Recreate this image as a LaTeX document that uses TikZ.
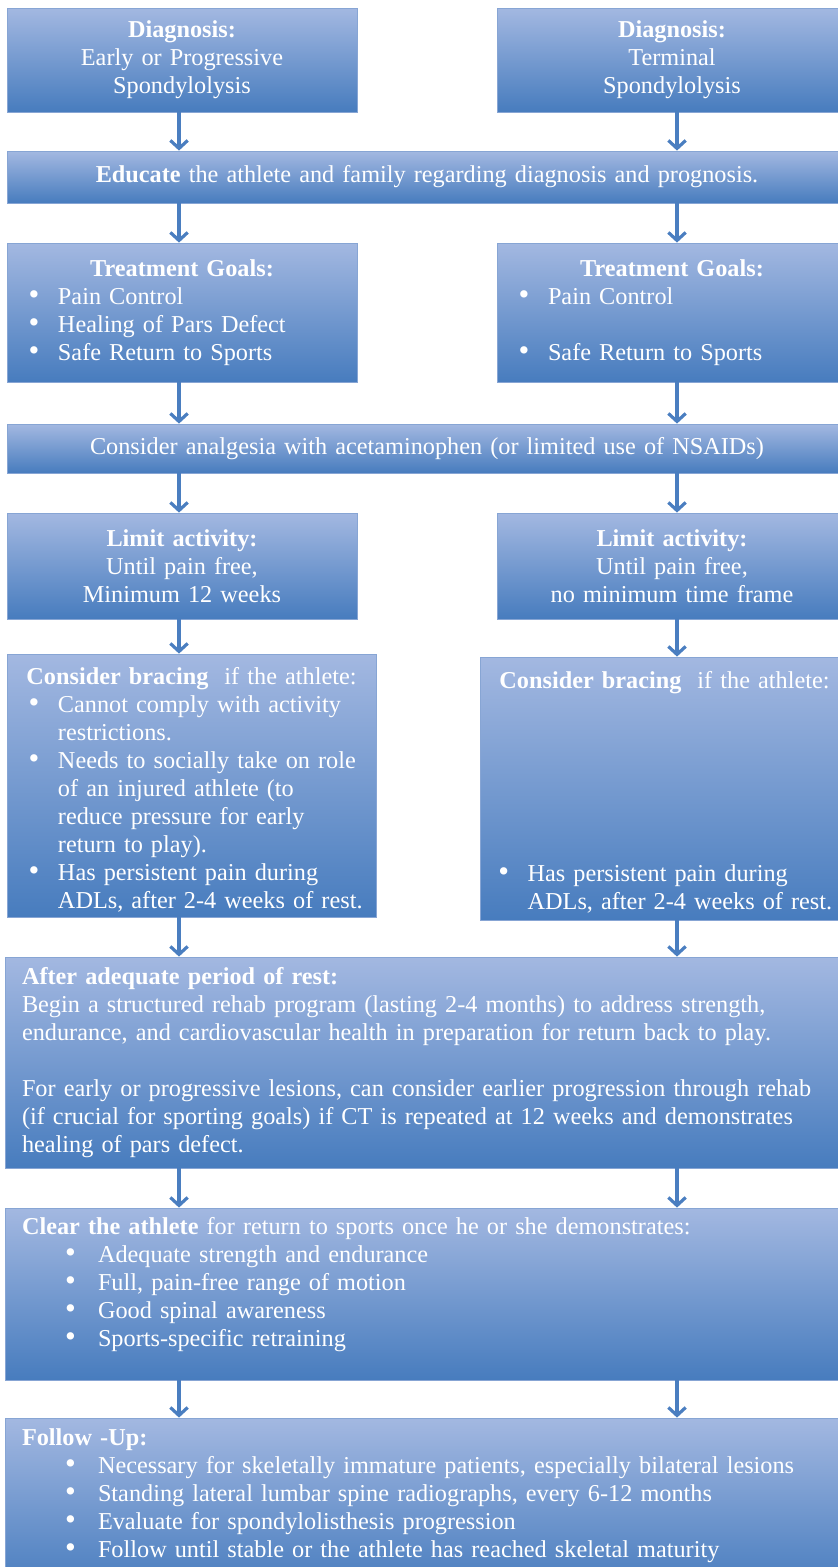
\documentclass[tikz,border=0pt]{standalone}
\usepackage{fontspec}
\setmainfont{Liberation Serif}
\usetikzlibrary{arrows.meta}

\definecolor{boxtop}{RGB}{163,184,225}
\definecolor{boxbot}{RGB}{71,124,190}
\definecolor{boxline}{RGB}{135,165,212}
\definecolor{arrowblue}{RGB}{74,126,192}

% one pixel of the layout grid
\newcommand{\px}{0.75pt}
% bullet line: bullet offset, text offset, text
\newcommand{\bul}[3]{\par\hangindent=#2\hangafter=1\noindent\hspace*{#1}\makebox[\dimexpr#2-#1\relax][l]{{\fontsize{23}{21}\selectfont\textbullet}}#3}
\newcommand{\itm}[1]{\bul{9.5pt}{31.5pt}{#1}}
\newcommand{\itmw}[1]{\bul{32.25pt}{57pt}{#1}}

\begin{document}
\begin{tikzpicture}[x=0.75pt, y=-0.75pt]

% Define styles for boxes and arrows
\tikzstyle{box} = [draw=boxline, line width=0.6pt, top color=boxtop, bottom color=boxbot, text=white, inner xsep=12.75pt, inner ysep=0pt, font=\fontsize{18.2}{21}\selectfont]
\tikzstyle{listbox} = [box, inner xsep=6.75pt, align=left]
\tikzstyle{arr} = [draw=arrowblue, line width=2.4pt, -{Straight Barb[length=6pt,width=13pt]}]

\useasboundingbox (0,0) rectangle (838,1567);

% Diagnosis
\node[box, minimum width=350*\px, minimum height=104*\px, text width=316*\px, align=center] (diagL) at (182,60)
    {\textbf{Diagnosis:}\\Early or Progressive\\Spondylolysis};
\node[box, minimum width=350*\px, minimum height=104*\px, text width=316*\px, align=center] (diagR) at (672,60)
    {\textbf{Diagnosis:}\\Terminal\\Spondylolysis};

\node[box, minimum width=840*\px, minimum height=52*\px, text width=806*\px, align=center] (edu) at (427,177)
    {\textbf{Educate} the athlete and family regarding diagnosis and prognosis.};

% Goals
\node[listbox, minimum width=350*\px, minimum height=139*\px, text width=332*\px] (goalsL) at (182,312.5)
    {{\centering\textbf{Treatment Goals:}\par}\itm{Pain Control}\itm{Healing of Pars Defect}\itm{Safe Return to Sports}\par};
\node[listbox, minimum width=350*\px, minimum height=139*\px, text width=332*\px] (goalsR) at (672,312.5)
    {{\centering\textbf{Treatment Goals:}\par}\itm{Pain Control}\par\mbox{}\itm{Safe Return to Sports}\par};

\node[box, minimum width=840*\px, minimum height=49*\px, text width=806*\px, align=center] (analg) at (427,448.5)
    {Consider analgesia with acetaminophen (or limited use of NSAIDs)};

% Activity
\node[box, minimum width=350*\px, minimum height=106*\px, text width=316*\px, align=center] (limitL) at (182,566)
    {\textbf{Limit activity:}\\Until pain free,\\Minimum 12 weeks};
\node[box, minimum width=350*\px, minimum height=106*\px, text width=316*\px, align=center] (limitR) at (672,566)
    {\textbf{Limit activity:}\\Until pain free,\\no minimum time frame};

% Bracing
\node[listbox, minimum width=369*\px, minimum height=263*\px, text width=351*\px] (braceL) at (191.5,785.5)
    {{\centering\textbf{Consider bracing}\hspace{12pt}if the athlete:\par}%
     \itm{Cannot comply with activity\newline restrictions.}%
     \itm{Needs to socially take on role\newline of an injured athlete (to\newline reduce pressure for early\newline return to play).}%
     \itm{Has persistent pain during\newline ADLs, after 2-4 weeks of rest.}\par\vspace*{-6pt}};
\node[listbox, minimum width=369*\px, minimum height=263*\px, text width=351*\px] (braceR) at (664.5,788.5)
    {{\centering\textbf{Consider bracing}\hspace{12pt}if the athlete:\par}\vspace{123.75pt}%
     \bul{7pt}{29pt}{Has persistent pain during\newline ADLs, after 2-4 weeks of rest.}\par\vspace*{-6pt}};

% Rehab, clearance, follow-up
\node[box, minimum width=844*\px, minimum height=211*\px, text width=810*\px, align=left] (rest) at (427,1062.5)
    {\textbf{After adequate period of rest:}\\
     Begin a structured rehab program (lasting 2-4 months) to address strength,\\
     endurance, and cardiovascular health in preparation for return back to play.\\[21pt]
     For early or progressive lesions, can consider earlier progression through rehab\\
     (if crucial for sporting goals) if CT is repeated at 12 weeks and demonstrates\\
     healing of pars defect.};
\node[box, minimum width=844*\px, minimum height=172*\px, text width=810*\px, align=left] (clear) at (427,1294)
    {\textbf{Clear the athlete} for return to sports once he or she demonstrates:%
     \itmw{Adequate strength and endurance}\itmw{Full, pain-free range of motion}%
     \itmw{Good spinal awareness}\itmw{Sports-specific retraining}\par\vspace*{14pt}};
\node[box, minimum width=844*\px, minimum height=172*\px, text width=810*\px, align=left] (follow) at (427,1504)
    {\textbf{Follow -Up:}%
     \itmw{Necessary for skeletally immature patients, especially bilateral lesions}%
     \itmw{Standing lateral lumbar spine radiographs, every 6-12 months}%
     \itmw{Evaluate for spondylolisthesis progression}%
     \itmw{Follow until stable or the athlete has reached skeletal maturity}\par\vspace*{13pt}};

% Arrows, left column
\coordinate (colL) at (179,0);
\coordinate (colR) at (677,0);
\draw[arr] (diagL.south -| colL) -- (edu.north -| colL);
\draw[arr] (edu.south -| colL) -- (goalsL.north -| colL);
\draw[arr] (goalsL.south -| colL) -- (analg.north -| colL);
\draw[arr] (analg.south -| colL) -- (limitL.north -| colL);
\draw[arr] (limitL.south -| colL) -- (braceL.north -| colL);
\draw[arr] (braceL.south -| colL) -- (rest.north -| colL);
\draw[arr] (rest.south -| colL) -- (clear.north -| colL);
\draw[arr] (clear.south -| colL) -- (follow.north -| colL);

% Arrows, right column
\draw[arr] (diagR.south -| colR) -- (edu.north -| colR);
\draw[arr] (edu.south -| colR) -- (goalsR.north -| colR);
\draw[arr] (goalsR.south -| colR) -- (analg.north -| colR);
\draw[arr] (analg.south -| colR) -- (limitR.north -| colR);
\draw[arr] (limitR.south -| colR) -- (braceR.north -| colR);
\draw[arr] (braceR.south -| colR) -- (rest.north -| colR);
\draw[arr] (rest.south -| colR) -- (clear.north -| colR);
\draw[arr] (clear.south -| colR) -- (follow.north -| colR);

\end{tikzpicture}
\end{document}
